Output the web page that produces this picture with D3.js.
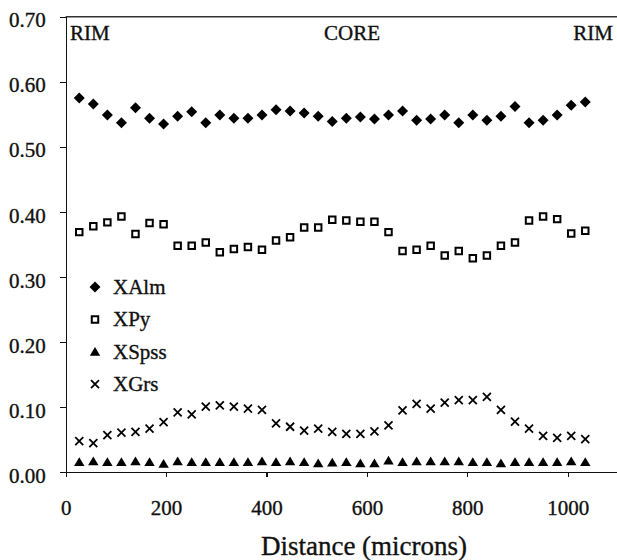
<!DOCTYPE html>
<html>
<head>
<meta charset="utf-8">
<script src="https://cdn.jsdelivr.net/npm/d3@7"></script>
<style>
  html, body { margin: 0; padding: 0; background: #fff; }
  svg { display: block; font-family: "Liberation Serif", "Times New Roman", serif; }
  svg text { fill: #111; stroke: #111; stroke-width: 0.35px; }
  .axis path, .axis line { stroke: #111; stroke-width: 1.4; shape-rendering: crispEdges; }
  .axis text { font-size: 21px; font-family: "Liberation Serif", serif; }
</style>
</head>
<body>
<svg id="chart" width="617" height="560"></svg>
<script>
// Distance along the traverse (microns)
const distance = [27, 55, 83, 111, 139, 167, 195, 223, 251, 279, 307, 335, 363, 391, 419,
  447, 475, 503, 531, 559, 587, 615, 643, 671, 699, 727, 755, 783, 811, 839, 867, 895,
  923, 951, 979, 1007, 1035];

// Garnet end-member mole fractions
const xAlm = [0.575, 0.566, 0.549, 0.537, 0.560, 0.544, 0.535, 0.547, 0.554, 0.537, 0.549,
  0.544, 0.544, 0.549, 0.557, 0.555, 0.552, 0.547, 0.539, 0.544, 0.546, 0.543, 0.549,
  0.555, 0.541, 0.543, 0.549, 0.537, 0.549, 0.541, 0.547, 0.562, 0.537, 0.541, 0.549,
  0.564, 0.569];
const xPy = [0.369, 0.378, 0.384, 0.393, 0.366, 0.383, 0.381, 0.348, 0.348, 0.353, 0.338,
  0.343, 0.346, 0.342, 0.356, 0.361, 0.376, 0.376, 0.388, 0.387, 0.385, 0.385, 0.369,
  0.340, 0.342, 0.348, 0.333, 0.340, 0.329, 0.333, 0.348, 0.353, 0.387, 0.393, 0.389,
  0.367, 0.371];
const xSpss = [0.016, 0.017, 0.016, 0.016, 0.017, 0.016, 0.013, 0.017, 0.016, 0.016, 0.016,
  0.016, 0.016, 0.017, 0.016, 0.017, 0.016, 0.014, 0.015, 0.016, 0.014, 0.014, 0.018,
  0.016, 0.017, 0.017, 0.017, 0.017, 0.016, 0.016, 0.014, 0.016, 0.016, 0.016, 0.016,
  0.017, 0.016];
const xGrs = [0.048, 0.045, 0.057, 0.061, 0.062, 0.067, 0.077, 0.092, 0.089, 0.101, 0.103,
  0.101, 0.098, 0.096, 0.075, 0.070, 0.064, 0.067, 0.062, 0.059, 0.059, 0.063, 0.072,
  0.095, 0.105, 0.098, 0.107, 0.111, 0.111, 0.116, 0.096, 0.078, 0.067, 0.056, 0.053,
  0.056, 0.051];

const yTicks = [0, 0.1, 0.2, 0.3, 0.4, 0.5, 0.6, 0.7];
const xTicks = [0, 200, 400, 600, 800, 1000];
const seriesNames = ["XAlm", "XPy", "XSpss", "XGrs"];
const zoneLabels = ["RIM", "CORE", "RIM"];

const svg = d3.select("#chart");
const x = d3.scaleLinear().domain([0, 1100]).range([65.7, 617.9]);
const y = d3.scaleLinear().domain([0, 0.7]).range([472.3, 16.7]);

// Marker shapes
const diamond = { draw(ctx, size) { const r = Math.sqrt(size) / 2;
  ctx.moveTo(0, -r); ctx.lineTo(r, 0); ctx.lineTo(0, r); ctx.lineTo(-r, 0); ctx.closePath(); } };
const square = { draw(ctx, size) { const h = Math.sqrt(size) / 2;
  ctx.rect(-h, -h, 2 * h, 2 * h); } };
const triangle = { draw(ctx, size) { const h = Math.sqrt(size) / 2;
  ctx.moveTo(0, -h); ctx.lineTo(h * 1.1, h * 0.85); ctx.lineTo(-h * 1.1, h * 0.85); ctx.closePath(); } };
const cross = { draw(ctx, size) { const h = Math.sqrt(size) / 2;
  ctx.moveTo(-h, -h); ctx.lineTo(h, h); ctx.moveTo(h, -h); ctx.lineTo(-h, h); } };

const styles = {
  XAlm:  { path: d3.symbol(diamond, 121)(),  fill: "#000", stroke: "none", sw: 0 },
  XPy:   { path: d3.symbol(square, 42)(),    fill: "#fff", stroke: "#000", sw: 2 },
  XSpss: { path: d3.symbol(triangle, 90)(),  fill: "#000", stroke: "none", sw: 0 },
  XGrs:  { path: d3.symbol(cross, 64)(),     fill: "none", stroke: "#000", sw: 1.8 }
};
const values = { XAlm: xAlm, XPy: xPy, XSpss: xSpss, XGrs: xGrs };

// Plot frame (top edge; right edge falls just outside the view)
svg.append("line").attr("x1", x(0)).attr("x2", x(1100)).attr("y1", y(0.7)).attr("y2", y(0.7))
  .attr("stroke", "#333").attr("stroke-width", 1.4);
svg.append("line").attr("x1", x(1100)).attr("x2", x(1100)).attr("y1", y(0.7)).attr("y2", y(0))
  .attr("stroke", "#333").attr("stroke-width", 1.4);

// Axes
const yAxis = svg.append("g").attr("class", "axis")
  .attr("transform", `translate(${x(0)},0)`)
  .call(d3.axisLeft(y).tickValues(yTicks).tickFormat(d3.format(".2f")).tickSize(6).tickSizeOuter(0).tickPadding(14));
yAxis.selectAll("text").attr("dy", "0.48em");

const xAxis = svg.append("g").attr("class", "axis")
  .attr("transform", `translate(0,${y(0)})`)
  .call(d3.axisBottom(x).tickValues(xTicks).tickFormat(d3.format("d")).tickSize(5).tickSizeOuter(0).tickPadding(23));
xAxis.select(".domain").attr("d", `M${x(0)},0H${x(1100)}`);

// Data markers
seriesNames.forEach(name => {
  const st = styles[name];
  svg.append("g").selectAll("path")
    .data(distance.map((d, i) => [d, values[name][i]]))
    .join("path")
    .attr("d", st.path)
    .attr("transform", d => `translate(${x(d[0])},${y(d[1])})`)
    .attr("fill", st.fill).attr("stroke", st.stroke).attr("stroke-width", st.sw);
});

// Legend
const legend = svg.append("g").attr("transform", "translate(95,287)");
seriesNames.forEach((name, i) => {
  const st = styles[name];
  const g = legend.append("g").attr("transform", `translate(0,${i * 32.4})`);
  g.append("path").attr("d", st.path)
    .attr("fill", st.fill).attr("stroke", st.stroke).attr("stroke-width", st.sw);
  g.append("text").attr("x", 18).attr("y", 7).attr("font-size", 21).text(name);
});

// Zone labels
svg.append("text").attr("x", 70).attr("y", 40).attr("font-size", 21).text(zoneLabels[0]);
svg.append("text").attr("x", 352).attr("y", 40).attr("font-size", 21)
  .attr("text-anchor", "middle").text(zoneLabels[1]);
svg.append("text").attr("x", 613).attr("y", 40).attr("font-size", 21)
  .attr("text-anchor", "end").text(zoneLabels[2]);

// Axis title
svg.append("text").attr("x", 364).attr("y", 555).attr("font-size", 27)
  .attr("text-anchor", "middle").text("Distance (microns)");
</script>
</body>
</html>
